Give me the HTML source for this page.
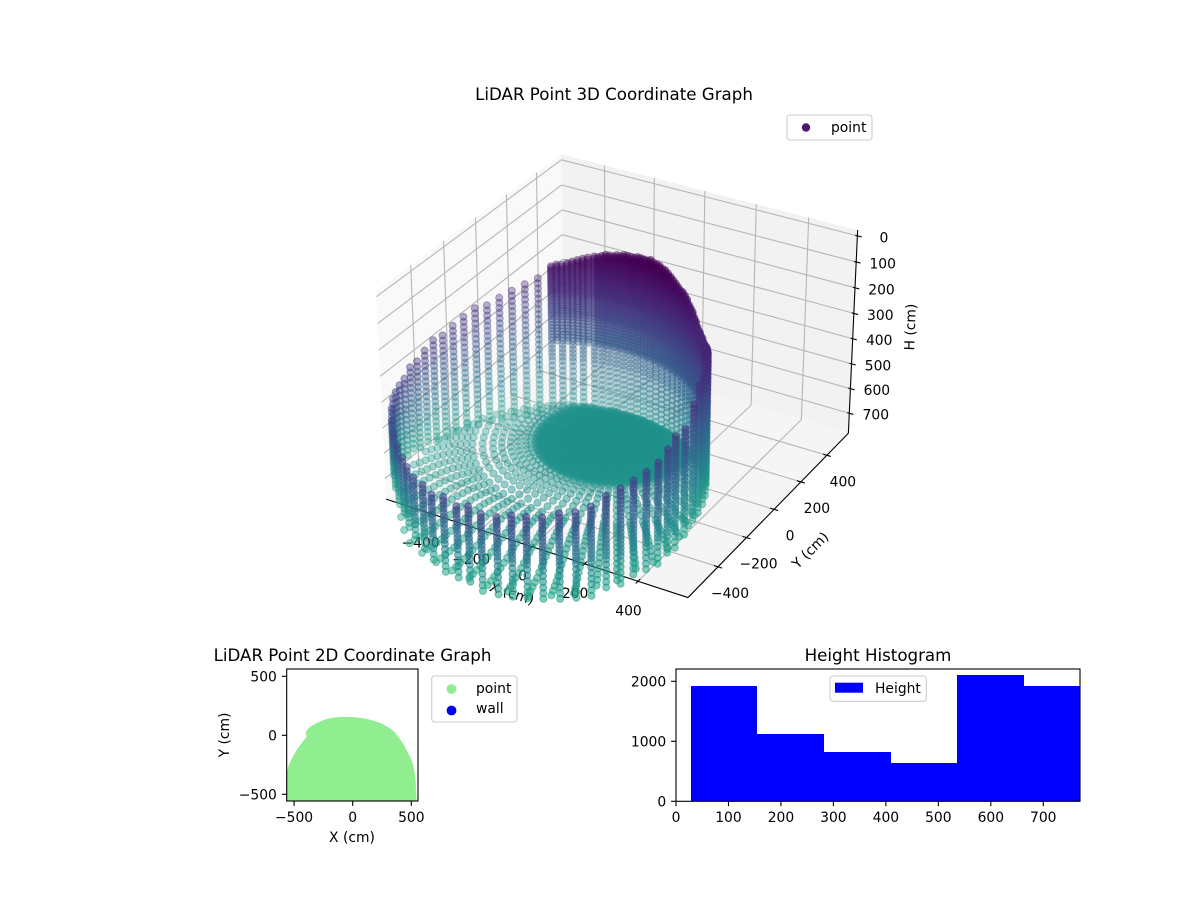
<!DOCTYPE html>
<html>
<head>
<meta charset="utf-8">
<title>LiDAR Point Graphs</title>
<style>
html,body{margin:0;padding:0;background:#fff;}
svg{display:block;}
text{font-family:"DejaVu Sans","Liberation Sans",sans-serif;font-size:13.89px;fill:#000;}
.title{font-size:16.67px;text-anchor:middle;}
</style>
</head>
<body>
<svg id="fig" xmlns="http://www.w3.org/2000/svg" width="1200" height="900" viewBox="0 0 1200 900">
  <defs>
    <clipPath id="clip2d"><rect x="286.7" y="669" width="131.3" height="132"/></clipPath>
    <clipPath id="clipHist"><rect x="676" y="669" width="404" height="132.3"/></clipPath>
  </defs>
  <g id="g3d"></g>
  <text class="title" x="614" y="100">LiDAR Point 3D Coordinate Graph</text>
  <g>
    <rect x="787" y="115" width="85" height="25" rx="3" fill="#fff" stroke="#ccc" stroke-width="1.1"/>
    <circle cx="806" cy="127.5" r="4.2" fill="#4b1870"/>
    <text x="831" y="132">point</text>
  </g>

  <g id="g2d"></g>
  <text class="title" x="352.5" y="661">LiDAR Point 2D Coordinate Graph</text>
  <text x="352" y="842" text-anchor="middle">X (cm)</text>
  <text transform="translate(229,735) rotate(-90)" text-anchor="middle">Y (cm)</text>
  <g>
    <rect x="431.7" y="676" width="85.3" height="46" rx="3" fill="#fff" stroke="#ccc" stroke-width="1.1"/>
    <circle cx="451.5" cy="689" r="4.9" fill="#90ee90"/>
    <text x="476" y="693">point</text>
    <circle cx="451.5" cy="710.5" r="4.9" fill="#0000ff"/>
    <text x="476" y="713">wall</text>
  </g>

  <g id="gHist"></g>
  <text class="title" x="878" y="661">Height Histogram</text>
  <g>
    <rect x="830" y="676" width="96.3" height="25.3" rx="3" fill="#fff" fill-opacity="0.8" stroke="#ccc" stroke-width="1.1"/>
    <rect x="835" y="682.7" width="28" height="10" fill="#0000ff"/>
    <text x="875" y="693">Height</text>
  </g>
</svg>
<script>
// ---------- 3D chart data ----------
const xTicks3d = [-400, -200, 0, 200, 400];
const yTicks3d = [-400, -200, 0, 200, 400];
const hTicks3d = [0, 100, 200, 300, 400, 500, 600, 700];
const xRange3d = [-577, 584];
const yRange3d = [-604, 570];
const hRange3d = [-22, 782];

// Room outline: centre and radius of the wall ring (cm)
const ringCentre = [-40, -417];
const ringRadius = [516];
// Sensor footprint: centre of the floor rings (cm)
const floorCentre = [14, -71];

// Sparse wall columns: bearing round the ring (deg, 0 = toward viewer), top and bottom height (cm),
// and the colour-scale value read at each column's top
const wallBearing = [-175,-170,-165,-160,-155,-150,-145,-140,-135,-130,-125,-120,-115,-110,-105,-100,-95,-90,-84,-78,-72,-66,-62,-57,-51,-46,-40,-34,-29,-24,-18,-12.6,-7.3,-1.7,4.2,10,15.5,21,26.6,31.8,37.3,42.8,47.7,52,58,64.6,70,76,82,90];
const wallTop = [144,164,175,191,211,227,242,258,278,290,309,321,329,337,341,341,350,355,365,380,395,410,425,436,442,458,443,451,447,451,451,447,447,443,428,425,410,390,365,350,332,320,298,268,257,198,165,160,165,170];
const wallBottom = [700,700,700,700,700,700,700,700,695,690,685,680,665,650,640,610,600,580,590,600,620,640,660,690,712,728,744,752,756,760,762,762,762,762,762,762,760,750,740,732,726,716,706,695,672,665,660,655,655,660];
const wallShade = [.1,.1,.1,.11,.11,.12,.12,.13,.13,.14,.14,.15,.15,.16,.17,.18,.18,.2,.2,.2,.2,.2,.2,.2,.2,.2,.2,.2,.2,.2,.2,.2,.2,.2,.2,.2,.2,.2,.19,.19,.18,.18,.17,.17,.16,.15,.14,.13,.12,.11];
const wallLevels = [30,45,60,75,90,105,120,135,150,165,180,195,210,225,240,255,270,285,300,315,330,345,360,375,390,405,420,435,450,465,480,495,510,525,540,555,570,585,600,615,630,650,672,694,716,738,760];
const wallLevelsFar = [30,50,70,90,110,130,150,170,190,210,230,250,270,290,310,330,350,370,390,410,430,450,470,490,510,530,550,570,590,610,630,650,670,690];
const wallBaseShade = [0.58];

// Dense far-side dome columns
const domeBearing = [180,178,176,174,172,170,168,166,163.5,162,160.5,159,157.5,156,154.5,153,151.5,150,148.5,147,145.5,144,142.5,141,139.5,138,136.5,135,133.5,132,130.5,129,127.5,126,124.5,123,121.5,120,118.5,117,115.5,114,112.5,111,109.5,108,106.5,105,103.5,102,100.5,99,97.5,96,94.5,93,91.5];
const domeTop = [105,98,92,85,79,73,66,60,54,50,46,42,39,36,33,30,28,26,24,22,20,18,16,15,14,15,17,20,24,28,33,38,44,50,57,64,70,73,82,92,102,112,122,132,142,148,152,156,160,163,164,162,160,157,154,151,149];
const domeLevels = [14,21,28,35,42,49,56,63,70,77,84,91,98,105,112,119,126,133,140,147,154,161,168,175,182,189,196,203,210,217,226,235,244,253,262,271,280,289,298,310,322,334,346,358,370,382,394,410,426,442,458,474,494,514,534,554,574,594,614,634,654];
// Below this height only every second dome column carries points
const domeSparseFrom = [400];

// Floor rings around the sensor footprint
const floorBearing = [0,5,10,15,20,25,30,35,40,45,50,55,60,65,70,75,80,85,90,95,100,105,110,115,120,125,130,135,140,145,150,155,160,165,170,175,180,185,190,195,200,205,210,215,220,225,230,235,240,245,250,255,260,265,270,275,280,285,290,295,300,305,310,315,320,325,330,335,340,345,350,355];
const floorRadius = [10,22,34,46,58,70,82,94,106,118,130,142,154,166,178,190,202,214,226,238,250,262,274,290,310,335,360,390,420,455,490,510,530,550,570,590,610,630,650,670,690,710,730,750,770,790,810,830];
const floorLevel = [650,650,650,650,650,650,650,650,650,650,650,650,650,650,650,650,650,650,650,650,650,650,650,650,652,654,656,658,660,662,664,665,666,668,670,675,680,687,695,703,711,719,727,735,740,745,750,755];
// Extra staggered rings that make the solid centre of the floor
const floorInnerBearing = [2.5,7.5,12.5,17.5,22.5,27.5,32.5,37.5,42.5,47.5,52.5,57.5,62.5,67.5,72.5,77.5,82.5,87.5,92.5,97.5,102.5,107.5,112.5,117.5,122.5,127.5,132.5,137.5,142.5,147.5,152.5,157.5,162.5,167.5,172.5,177.5,182.5,187.5,192.5,197.5,202.5,207.5,212.5,217.5,222.5,227.5,232.5,237.5,242.5,247.5,252.5,257.5,262.5,267.5,272.5,277.5,282.5,287.5,292.5,297.5,302.5,307.5,312.5,317.5,322.5,327.5,332.5,337.5,342.5,347.5,352.5,357.5];
const floorInnerRadius = [16,28,40,52,64,76,88,100,112,124,136,148,160,172,184,196,208,220,232,244,256,268];
const floorInnerLevel = [650];

// ---------- 2D chart data ----------
const xTicks2d = [-500, 0, 500];
const yTicks2d = [-500, 0, 500];
const xRange2d = [-563, 557];
const yRange2d = [-557, 562];
const outlineX = [-570,-557,-540,-520,-494,-463,-426,-386,-398,-386,-364,-301,-236,-159,-80,6,91,162,233,296,347,395,432,469,503,520,531,540,540];
const outlineY = [-570,-308,-251,-209,-161,-110,-59,-11,17,42,68,102,130,147,153,150,141,124,102,68,31,-28,-82,-153,-223,-294,-364,-548,-570];

// ---------- histogram data ----------
const histEdges = [28.6,154.4,282,410,535.6,663.4,790];
const histCounts = [1922,1122,822,638,2102,1922];
const histXTicks = [0,100,200,300,400,500,600,700];
const histYTicks = [0,1000,2000];
const histXRange = [0,770];
const histYRange = [0,2205];

// ---------- helpers ----------
const NS = 'http://www.w3.org/2000/svg';
function svgEl(tag, attrs, parent){
  const e = document.createElementNS(NS, tag);
  for (const k in attrs) e.setAttribute(k, attrs[k]);
  parent.appendChild(e);
  return e;
}
function fmt(v){ return String(v).replace('-', '\u2212'); }

const viridisStops = ['#440154','#482475','#414487','#355f8d','#2a788e','#21918c','#22a884','#44bf70','#7ad151','#bddf26','#fde725'];
function hexRgb(h){ return [parseInt(h.slice(1,3),16),parseInt(h.slice(3,5),16),parseInt(h.slice(5,7),16)]; }
function viridis(t){
  t = Math.max(0, Math.min(1, t));
  const p = t * (viridisStops.length-1), i = Math.min(Math.floor(p), viridisStops.length-2), f = p-i;
  const a = hexRgb(viridisStops[i]), b = hexRgb(viridisStops[i+1]);
  return 'rgb(' + Math.round(a[0]+(b[0]-a[0])*f) + ',' + Math.round(a[1]+(b[1]-a[1])*f) + ',' + Math.round(a[2]+(b[2]-a[2])*f) + ')';
}
function heightShade(h){ return (h-30)/1233; }

// ---------- 3D axis functions ----------
const boxXY = 0.5952, boxZ = 0.408, viewDist = 10;
const screenCx = 621.5, screenCy = 364.8, screenSx = 2900, screenSy = 2910;
function project(x, y, h){
  const qx = (x-(xRange3d[0]+xRange3d[1])/2)/((xRange3d[1]-xRange3d[0])/2)*boxXY;
  const qy = (y-(yRange3d[0]+yRange3d[1])/2)/((yRange3d[1]-yRange3d[0])/2)*boxXY;
  const qz = -(h-(hRange3d[0]+hRange3d[1])/2)/((hRange3d[1]-hRange3d[0])/2)*boxZ;
  const u = 0.8660254*qx + 0.5*qy;
  const v = -0.25*qx + 0.4330127*qy + 0.8660254*qz;
  const w = 0.4330127*qx - 0.75*qy + 0.5*qz;
  const d = viewDist - w;
  return [screenCx + screenSx*u/d, screenCy - screenSy*v/d, d];
}
function bearingDir(b){
  const a = (b-60)*Math.PI/180;
  return [Math.cos(a), Math.sin(a)];
}

const g3d = document.getElementById('g3d');
const xLo = xRange3d[0], xHi = xRange3d[1], yLo = yRange3d[0], yHi = yRange3d[1], hTop = hRange3d[0], hBot = hRange3d[1];

function pane(corners, fill, name){
  const pts = corners.map(c => { const p = project(c[0],c[1],c[2]); return p[0].toFixed(1)+','+p[1].toFixed(1); }).join(' ');
  const el = svgEl('polygon', {points: pts, fill: fill}, g3d);
  
  
}
pane([[xLo,yLo,hBot],[xLo,yHi,hBot],[xLo,yHi,hTop],[xLo,yLo,hTop]], '#f9f9f9', 'left-pane');
pane([[xLo,yHi,hBot],[xHi,yHi,hBot],[xHi,yHi,hTop],[xLo,yHi,hTop]], '#f2f2f2', 'back-pane');
pane([[xLo,yLo,hBot],[xHi,yLo,hBot],[xHi,yHi,hBot],[xLo,yHi,hBot]], '#f5f5f5', 'floor-pane');

function line3d(a, b, stroke, width, name){
  const p = project(a[0],a[1],a[2]), q = project(b[0],b[1],b[2]);
  const el = svgEl('line', {x1:p[0].toFixed(2), y1:p[1].toFixed(2), x2:q[0].toFixed(2), y2:q[1].toFixed(2), stroke:stroke, 'stroke-width':width}, g3d);
  
  
}
const gridColor = '#b6b6b6';
xTicks3d.forEach(x => {
  line3d([x,yLo,hBot],[x,yHi,hBot],gridColor,1.1,'x-grid-line');
  line3d([x,yHi,hBot],[x,yHi,hTop],gridColor,1.1,'x-grid-line');
});
yTicks3d.forEach(y => {
  line3d([xHi,y,hBot],[xLo,y,hBot],gridColor,1.1,'y-grid-line');
  line3d([xLo,y,hBot],[xLo,y,hTop],gridColor,1.1,'y-grid-line');
});
hTicks3d.forEach(h => {
  line3d([xLo,yLo,h],[xLo,yHi,h],gridColor,1.1,'h-grid-line');
  line3d([xLo,yHi,h],[xHi,yHi,h],gridColor,1.1,'h-grid-line');
});
line3d([xLo,yLo,hBot],[xHi,yLo,hBot],'#000',1.1,'x-axis-line');
line3d([xHi,yLo,hBot],[xHi,yHi,hBot],'#000',1.1,'y-axis-line');
line3d([xHi,yHi,hBot],[xHi,yHi,hTop],'#000',1.1,'h-axis-line');

function tickText(px, py, label, name){
  const t = svgEl('text', {x:px.toFixed(1), y:py.toFixed(1), 'text-anchor':'middle'}, g3d);
  t.textContent = label;
  
  
}
xTicks3d.forEach(x => {
  line3d([x,yLo-15,hBot],[x,yLo+15,hBot],'#000',1.1,'x-tick');
  const p = project(x,yLo,hBot);
  tickText(p[0]-9.5, p[1]+34, fmt(x), 'x-tick-label');
});
yTicks3d.forEach(y => {
  line3d([xHi-15,y,hBot],[xHi+15,y,hBot],'#000',1.1,'y-tick');
  const p = project(xHi,y,hBot);
  tickText(p[0]+16-(y<0?4:0), p[1]+31, fmt(y), 'y-tick-label');
});
hTicks3d.forEach(h => {
  line3d([xHi-8,yHi,h],[xHi+16,yHi,h],'#000',1.1,'h-tick');
  const p = project(xHi,yHi,h);
  tickText(p[0]+26.5, p[1]+6.5, fmt(h), 'h-tick-label');
});
const axisTitles = [['X (cm)',512,593,18,'x-axis-title'],['Y (cm)',810,550,-45,'y-axis-title'],['H (cm)',910,327,-88,'h-axis-title']];
axisTitles.forEach(a => {
  const t = svgEl('text', {transform:'translate('+a[1]+','+a[2]+') rotate('+a[3]+')', 'text-anchor':'middle', dy:'5'}, g3d);
  t.textContent = a[0];
  
  
});

// ---------- build the 3D point cloud from the arrays ----------
const cloud = [];
wallBearing.forEach((b, i) => {
  const dir = bearingDir(b);
  const levels = b < -90 ? wallLevelsFar : wallLevels;
  levels.forEach(h => {
    if (h < wallTop[i] || h > wallBottom[i]) return;
    const along = (h-wallTop[i])/(wallBottom[i]-wallTop[i]);
    const shade = wallShade[i] + along*(wallBaseShade[0]-wallShade[i]);
    cloud.push([ringCentre[0]+ringRadius[0]*dir[0], ringCentre[1]+ringRadius[0]*dir[1], h, shade]);
  });
});
domeBearing.forEach((b, i) => {
  const dir = bearingDir(b);
  domeLevels.forEach(h => {
    if (h < domeTop[i]) return;
    if (h > domeSparseFrom[0] && i % 2 === 1) return;
    cloud.push([ringCentre[0]+ringRadius[0]*dir[0], ringCentre[1]+ringRadius[0]*dir[1], h, heightShade(h)]);
  });
});
floorBearing.forEach(b => {
  const dir = bearingDir(b);
  floorRadius.forEach((r, i) => {
    const x = floorCentre[0]+r*dir[0], y = floorCentre[1]+r*dir[1];
    if (Math.hypot(x-ringCentre[0], y-ringCentre[1]) > ringRadius[0]) return;
    cloud.push([x, y, floorLevel[i], heightShade(floorLevel[i])]);
  });
});
floorInnerBearing.forEach(b => {
  const dir = bearingDir(b);
  floorInnerRadius.forEach(r => {
    const x = floorCentre[0]+r*dir[0], y = floorCentre[1]+r*dir[1];
    if (Math.hypot(x-ringCentre[0], y-ringCentre[1]) > ringRadius[0]) return;
    cloud.push([x, y, floorInnerLevel[0], heightShade(floorInnerLevel[0])]);
  });
});
const projected = cloud.map(p => { const s = project(p[0],p[1],p[2]); return {sx:s[0], sy:s[1], d:s[2], t:p[3]}; });
projected.sort((a,b) => b.d-a.d);
const dFar = projected[0].d, dNear = projected[projected.length-1].d;
const gPts = svgEl('g', {}, g3d);


projected.forEach(p => {
  const near = (dFar-p.d)/(dFar-dNear);
  const alpha = (0.28 + 0.34*near).toFixed(3);
  const col = viridis(p.t);
  const el = svgEl('circle', {cx:p.sx.toFixed(1), cy:p.sy.toFixed(1), r:3.5, fill:col, stroke:col, 'stroke-width':1.1, 'fill-opacity':alpha, 'stroke-opacity':alpha}, gPts);
  
  
});

// ---------- 2D chart ----------
const g2d = document.getElementById('g2d');
const box2d = {l:286.7, r:418, t:669, b:801};
function x2d(v){ return box2d.l + (v-xRange2d[0])/(xRange2d[1]-xRange2d[0])*(box2d.r-box2d.l); }
function y2d(v){ return box2d.b - (v-yRange2d[0])/(yRange2d[1]-yRange2d[0])*(box2d.b-box2d.t); }
const outlinePts = outlineX.map((x,i) => x2d(x).toFixed(1)+','+y2d(outlineY[i]).toFixed(1)).join(' ');
const scan2d = svgEl('polygon', {points:outlinePts, fill:'#90ee90', stroke:'#90ee90', 'stroke-width':1, 'stroke-linejoin':'round', 'clip-path':'url(#clip2d)'}, g2d);


const frame2d = svgEl('rect', {x:box2d.l, y:box2d.t, width:box2d.r-box2d.l, height:box2d.b-box2d.t, fill:'none', stroke:'#000', 'stroke-width':1.1}, g2d);



function flatTick(g, x1, y1, x2, y2, name){
  const el = svgEl('line', {x1:x1, y1:y1, x2:x2, y2:y2, stroke:'#000', 'stroke-width':1.1}, g);
  
  
}
function flatLabel(g, x, y, anchor, label, name){
  const t = svgEl('text', {x:x, y:y, 'text-anchor':anchor}, g);
  t.textContent = label;
  
  
}
xTicks2d.forEach(v => {
  const px = x2d(v);
  flatTick(g2d, px, box2d.b, px, box2d.b+4.9, '2d-x-tick');
  flatLabel(g2d, px, 822, 'middle', fmt(v), '2d-x-tick-label');
});
yTicks2d.forEach(v => {
  const py = y2d(v);
  flatTick(g2d, box2d.l-4.9, py, box2d.l, py, '2d-y-tick');
  flatLabel(g2d, box2d.l-9.8, py+5, 'end', fmt(v), '2d-y-tick-label');
});

// ---------- histogram ----------
const gHist = document.getElementById('gHist');
const boxH = {l:676, r:1080, t:669, b:801.3};
function xHist(v){ return boxH.l + (v-histXRange[0])/(histXRange[1]-histXRange[0])*(boxH.r-boxH.l); }
function yHist(v){ return boxH.b - (v-histYRange[0])/(histYRange[1]-histYRange[0])*(boxH.b-boxH.t); }
histCounts.forEach((c, i) => {
  const x0 = xHist(histEdges[i]), x1 = xHist(histEdges[i+1]);
  const bar = svgEl('rect', {x:x0, y:yHist(c), width:x1-x0, height:yHist(0)-yHist(c), fill:'#0000ff', 'shape-rendering':'crispEdges', 'clip-path':'url(#clipHist)'}, gHist);
  
  
});
const frameH = svgEl('rect', {x:boxH.l, y:boxH.t, width:boxH.r-boxH.l, height:boxH.b-boxH.t, fill:'none', stroke:'#000', 'stroke-width':1.1}, gHist);


histXTicks.forEach(v => {
  const px = xHist(v);
  flatTick(gHist, px, boxH.b, px, boxH.b+4.9, 'histogram-x-tick');
  flatLabel(gHist, px, 822, 'middle', fmt(v), 'histogram-x-tick-label');
});
histYTicks.forEach(v => {
  const py = yHist(v);
  flatTick(gHist, boxH.l-4.9, py, boxH.l, py, 'histogram-y-tick');
  flatLabel(gHist, boxH.l-9.8, py+5, 'end', fmt(v), 'histogram-y-tick-label');
});
</script>
</body>
</html>
